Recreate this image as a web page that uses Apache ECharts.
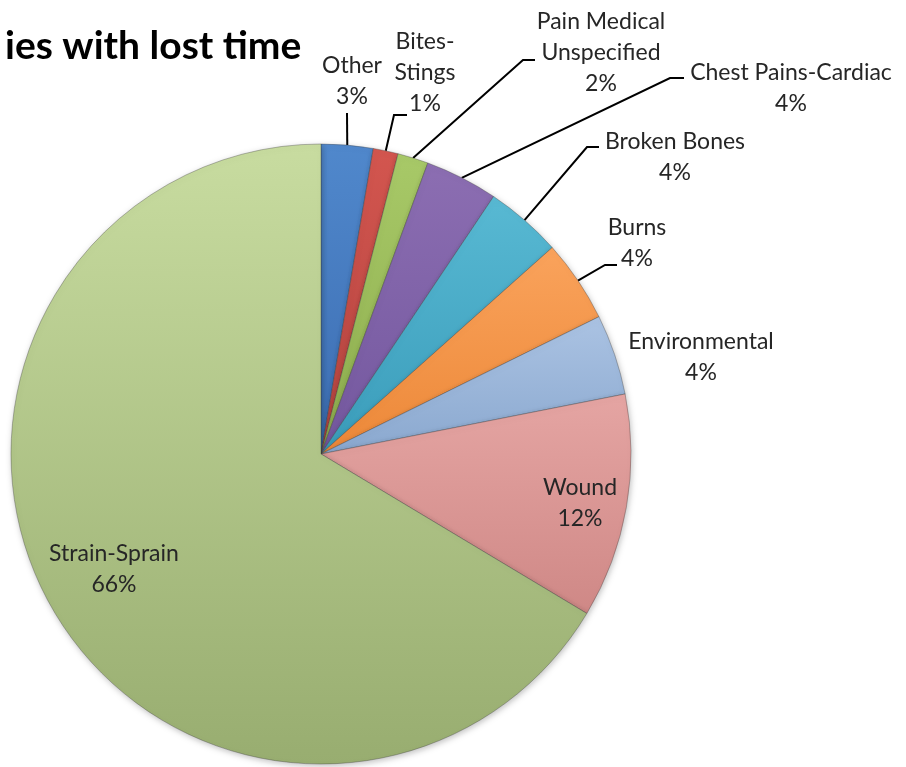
<!DOCTYPE html>
<html>
<head>
<meta charset="utf-8">
<script src="https://cdn.jsdelivr.net/npm/echarts@6/dist/echarts.min.js"></script>
<style>
html,body{margin:0;padding:0;background:#fff;}
#chart{width:906px;height:767px;}
</style>
</head>
<body>
<div id="chart"></div>
<script>
// ---- data ----
const categories = ['Other','Bites-Stings','Pain Medical Unspecified','Chest Pains-Cardiac','Broken Bones','Burns','Environmental','Wound','Strain-Sprain'];
const labelText  = ['Other','Bites-\nStings','Pain Medical\nUnspecified','Chest Pains-Cardiac','Broken Bones','Burns','Environmental','Wound','Strain-Sprain'];
const values     = [2.7, 1.3, 1.6, 3.8, 4.0, 4.3, 4.2, 11.7, 66.4];
const titleText  = 'ies with lost time';

// ---- styles ----
const colorsLight = ['#5088cc','#d3564f','#a8c968','#8c6eb2','#58b9d3','#faa35c','#abc3e3','#e5a5a3','#c8dca0'];
const colorsDark  = ['#3c6db2','#b3433f','#8dad4d','#73579e','#3a9cba','#ec8838','#8aa8cf','#cf8886','#98ad70'];
// label layout: [centerX, centerY, leader points after start (or null)]
const labelPos = [
  {x:352, y:81,  line:[[347,113]]},
  {x:425, y:73,  line:[[394,115],[407,115]]},
  {x:601, y:53,  line:[[523,60],[535,60]]},
  {x:791, y:88,  line:[[670,78],[684,78]]},
  {x:675, y:157, line:[[587,147],[599,147]]},
  {x:637, y:243, line:[[605,265],[617,265]]},
  {x:701, y:357, line:null},
  {x:580, y:503, line:null},
  {x:114, y:569, line:null}
];

const chart = echarts.init(document.getElementById('chart'), null, {renderer:'canvas'});
const data = categories.map((c,i)=>({
  name:c,
  value:values[i],
  itemStyle:{
    color:new echarts.graphic.LinearGradient(0,0,0,1,[
      {offset:0,color:colorsLight[i]},{offset:1,color:colorsDark[i]}
    ])
  },
  labelLine:{show: !!labelPos[i].line}
}));

chart.setOption({
  animation:false,
  title:{
    text:titleText,
    left:0, top:22,
    textStyle:{fontFamily:'Lato', fontWeight:'bold', fontSize:39, color:'#000'}
  },
  series:[{
    type:'pie',
    center:[321,454],
    radius:[0,310],
    startAngle:90,
    clockwise:true,
    avoidLabelOverlap:false,
    data:data,
    itemStyle:{
      borderColor:'rgba(60,60,60,0.35)',
      borderWidth:1,
      shadowBlur:6,
      shadowColor:'rgba(0,0,0,0.25)',
      shadowOffsetX:1,
      shadowOffsetY:2
    },
    label:{
      show:true,
      position:'outside',
      fontFamily:'Lato',
      fontSize:23,
      lineHeight:31,
      color:'#262626',
      align:'center',
      formatter:(p)=> labelText[p.dataIndex] + '\n' + Math.round(p.percent) + '%'
    },
    labelLine:{
      show:true,
      lineStyle:{color:'#000', width:2},
      length:10, length2:10, smooth:false
    },
    labelLayout:function(params){
      const lp = labelPos[params.dataIndex];
      const out = {x:lp.x, y:lp.y, align:'center', verticalAlign:'middle', hideOverlap:false, moveOverlap:null};
      if (lp.line && params.labelLinePoints && params.labelLinePoints.length) {
        out.labelLinePoints = [params.labelLinePoints[0]].concat(lp.line);
      }
      return out;
    }
  }]
});
</script>
</body>
</html>
